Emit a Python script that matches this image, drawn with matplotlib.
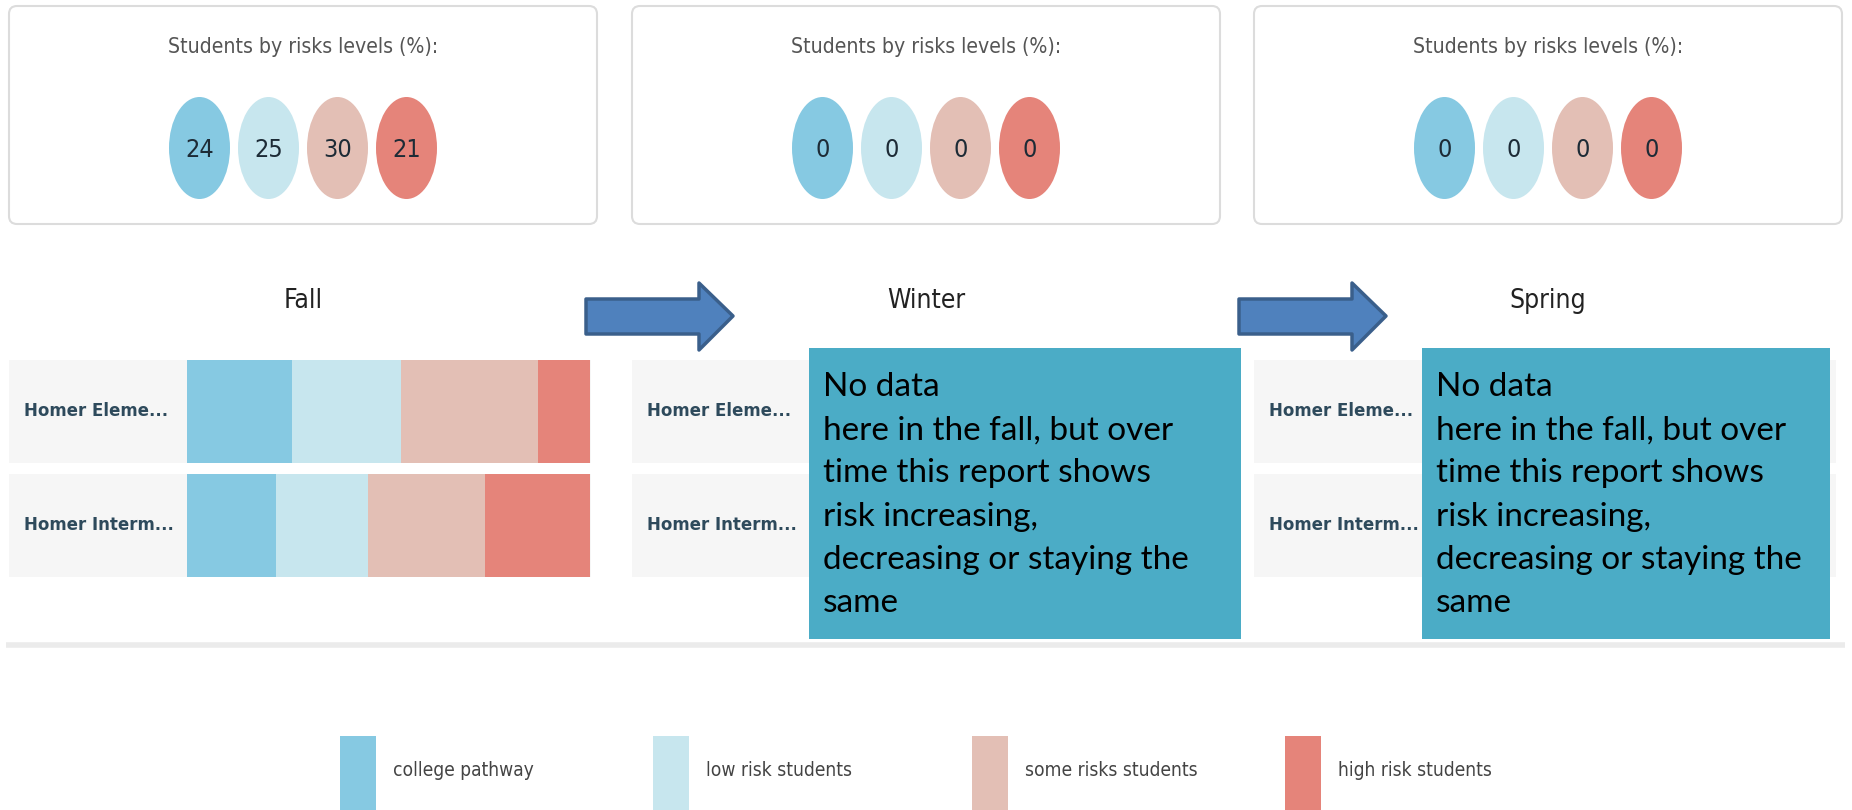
import matplotlib
matplotlib.use("Agg")
import matplotlib.pyplot as plt
from matplotlib import font_manager
from matplotlib.patches import FancyBboxPatch, Ellipse, Rectangle, Polygon

# --- DATA ---
seasons = ["Fall", "Winter", "Spring"]
schools = ["Homer Eleme...", "Homer Interm..."]
risk_levels = ["college pathway", "low risk students", "some risks students", "high risk students"]
risk_colors = ["#86C9E2", "#C7E6EE", "#E3BFB5", "#E5847A"]

# overall % per season (card circles)
overall_pct = {
    "Fall":   [24, 25, 30, 21],
    "Winter": [0, 0, 0, 0],
    "Spring": [0, 0, 0, 0],
}
# % per school per season, columns follow risk_levels
school_pct = {
    "Fall":   [[26, 27, 34, 13], [22, 23, 29, 26]],
    "Winter": [[0, 0, 0, 0], [0, 0, 0, 0]],
    "Spring": [[0, 0, 0, 0], [0, 0, 0, 0]],
}
note_lines = ["No data", "here in the fall, but over", "time this report shows",
              "risk increasing,", "decreasing or staying the", "same"]


# --- FONTS: prefer a narrow sans, fall back to something Arial-wide ---
def pick_ui_font():
    fl = font_manager.fontManager.ttflist
    if any(f.name == "Liberation Sans Narrow" for f in fl):
        return {"family": ["Liberation Sans Narrow", "DejaVu Sans"]}, 1 / 0.82
    if any(f.name == "DejaVu Sans" and f.stretch == "condensed" for f in fl):
        return {"family": ["DejaVu Sans"], "fontstretch": "condensed"}, 0.95
    return {"family": ["Roboto", "DejaVu Sans"]}, 1.0


UI, FS = pick_ui_font()

# --- LAYOUT (pixels) ---
W, H = 1852, 810
panel_left = [9, 632, 1254]
panel_w = 588


def fig_box(x0, y0, x1, y1):
    return [x0 / W, 1 - y1 / H, (x1 - x0) / W, (y1 - y0) / H]


fig = plt.figure(figsize=(W / 100, H / 100), dpi=100)
fig.patch.set_facecolor("white")

bg = fig.add_axes([0, 0, 1, 1], zorder=0)
bg.set_xlim(0, W); bg.set_ylim(H, 0); bg.axis("off")

for k, season in enumerate(seasons):
    x0 = panel_left[k]
    cx = x0 + panel_w / 2
    # card
    bg.add_patch(FancyBboxPatch((x0, 6), panel_w, 218, boxstyle="round,pad=0,rounding_size=8",
                                facecolor="white", edgecolor="#dcdcdc", lw=1.5))
    bg.text(cx, 47, "Students by risks levels (%):", ha="center", va="center",
            fontsize=16 * FS, color="#555555", **UI)
    for i, v in enumerate(overall_pct[season]):
        ex = cx + (i - 1.5) * 69
        bg.add_patch(Ellipse((ex, 148), 61, 102, facecolor=risk_colors[i], edgecolor="none"))
        bg.text(ex, 150, str(v), ha="center", va="center", fontsize=19 * FS,
                color="#1d2b36", **UI)
    bg.text(cx, 301, season, ha="center", va="center", fontsize=20 * FS,
            color="#222222", **UI)

    # school bars
    ax = fig.add_axes(fig_box(x0, 354.5, x0 + panel_w, 582.5), zorder=1)
    bar_l, bar_r = x0 + 178, x0 + 581
    ppu = (bar_r - bar_l) / 100.0
    xl, xr = (x0 - bar_l) / ppu, (x0 + panel_w - bar_l) / ppu
    ax.set_xlim(xl, xr); ax.set_ylim(1.5, -0.5); ax.axis("off")
    ypos = list(range(len(schools)))
    ax.barh(ypos, [xr - xl - 1.5] * len(schools), left=xl, height=0.9, color="#f6f6f6")
    left = [0] * len(schools)
    for j in range(len(risk_levels)):
        vals = [row[j] for row in school_pct[season]]
        ax.barh(ypos, vals, left=left, height=0.9, color=risk_colors[j])
        left = [a + b for a, b in zip(left, vals)]
    for y, name in zip(ypos, schools):
        ax.text((x0 + 15 - bar_l) / ppu, y, name, ha="left", va="center", fontsize=14 * FS,
                fontweight="bold", color="#2E4A5C", **UI)

# arrows between seasons
for ax0 in [586, 1239]:
    pts = [(ax0, 299), (ax0 + 113, 299), (ax0 + 113, 283), (ax0 + 147, 316),
           (ax0 + 113, 350), (ax0 + 113, 334), (ax0, 334)]
    bg.add_patch(Polygon(pts, closed=True, facecolor="#4F81BD", edgecolor="#3A5F8B",
                         lw=2.5, joinstyle="round"))

# separator
bg.plot([6, 1845], [645, 645], color="#ebebeb", lw=4, solid_capstyle="butt")

# legend
for i, (lab, col) in enumerate(zip(risk_levels, risk_colors)):
    lx = [340, 653, 972, 1285][i]
    bg.add_patch(Rectangle((lx, 736), 36, 74, facecolor=col, edgecolor="none"))
    bg.text(lx + 53, 770, lab, ha="left", va="center", fontsize=14.5 * FS,
            color="#444444", **UI)

# note boxes over winter / spring
fg = fig.add_axes([0, 0, 1, 1], zorder=5)
fg.set_xlim(0, W); fg.set_ylim(H, 0); fg.axis("off")
for bx0, bx1 in [(809, 1241), (1422, 1830)]:
    fg.add_patch(Rectangle((bx0, 348), bx1 - bx0, 291, facecolor="#4BACC6", edgecolor="none"))
    for n, line in enumerate(note_lines):
        fg.text(bx0 + 14, 384 + 43.2 * n, line, ha="left", va="center_baseline",
                fontsize=24, color="black", family=["Lato", "DejaVu Sans"])

fig.savefig("out.png", dpi=100, facecolor="white")
